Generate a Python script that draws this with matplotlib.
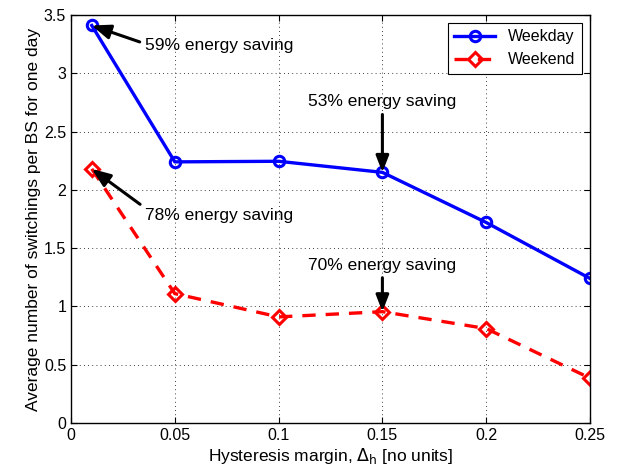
import matplotlib
matplotlib.use("Agg")
import matplotlib.pyplot as plt

plt.rcParams.update({"font.family": ["Liberation Sans", "DejaVu Sans"], "font.size": 11})

MARGIN = [0.01, 0.05, 0.10, 0.15, 0.20, 0.25]
WEEKDAY = [3.41, 2.24, 2.245, 2.15, 1.72, 1.24]
WEEKEND = [2.18, 1.11, 0.91, 0.955, 0.81, 0.385]
XTICKS = [0, 0.05, 0.1, 0.15, 0.2, 0.25]
XTICKLABELS = ["0", "0.05", "0.1", "0.15", "0.2", "0.25"]
YTICKS = [0, 0.5, 1, 1.5, 2, 2.5, 3, 3.5]
YTICKLABELS = ["0", "0.5", "1", "1.5", "2", "2.5", "3", "3.5"]

fig = plt.figure(figsize=(6.3, 4.74), dpi=100)
ax = fig.add_axes([0.1127, 0.1076, 0.8238, 0.8608])

ax.plot(MARGIN, WEEKDAY, "o-", color="blue", lw=2.4, ms=7.5, mfc="none", mew=2.2, label="Weekday")
ax.plot(MARGIN, WEEKEND, "D--", color="red", lw=2.4, ms=7, mfc="none", mew=2.2,
        dashes=(4, 3), label="Weekend")

ax.set_xlim(0, 0.25); ax.set_ylim(0, 3.5)
ax.set_xticks(XTICKS); ax.set_xticklabels(XTICKLABELS)
ax.set_yticks(YTICKS); ax.set_yticklabels(YTICKLABELS)
ax.tick_params(direction="in", top=True, right=True, length=4, labelsize=11.5)
ax.grid(True, color="k", ls=(0, (1, 4)), lw=0.6)
for s in ax.spines.values():
    s.set_linewidth(1.0)

ax.set_xlabel(r"Hysteresis margin, $\Delta_{\mathrm{h}}$ [no units]", fontsize=12.5, labelpad=2)
ax.set_ylabel("Average number of switchings per BS for one day", fontsize=12.5, labelpad=2)

arrow = dict(arrowstyle="-|>,head_length=0.9,head_width=0.35", color="k", lw=2.2,
             shrinkA=2, shrinkB=0)
ax.annotate("59% energy saving", xy=(MARGIN[0], WEEKDAY[0]), xytext=(0.0357, 3.24),
            fontsize=12.5, va="center", ha="left", arrowprops=dict(arrow, relpos=(0, 0.6)))
ax.annotate("78% energy saving", xy=(MARGIN[0], WEEKEND[0]), xytext=(0.0357, 1.78),
            fontsize=12.5, va="center", ha="left", arrowprops=dict(arrow, relpos=(0, 1.0)))
ax.annotate("", xy=(MARGIN[3], WEEKDAY[3]), xytext=(MARGIN[3], 2.67), arrowprops=arrow)
ax.text(MARGIN[3], 2.76, "53% energy saving", fontsize=12.5, ha="center", va="center")
ax.annotate("", xy=(MARGIN[3], WEEKEND[3]), xytext=(MARGIN[3], 1.27), arrowprops=arrow)
ax.text(MARGIN[3], 1.355, "70% energy saving", fontsize=12.5, ha="center", va="center")

leg = ax.legend(loc="upper right", fontsize=11.5, fancybox=False, edgecolor="k",
                framealpha=1, handlelength=2.6, borderaxespad=0.5)
leg.get_frame().set_linewidth(0.8)

fig.savefig("out.png", dpi=100)
